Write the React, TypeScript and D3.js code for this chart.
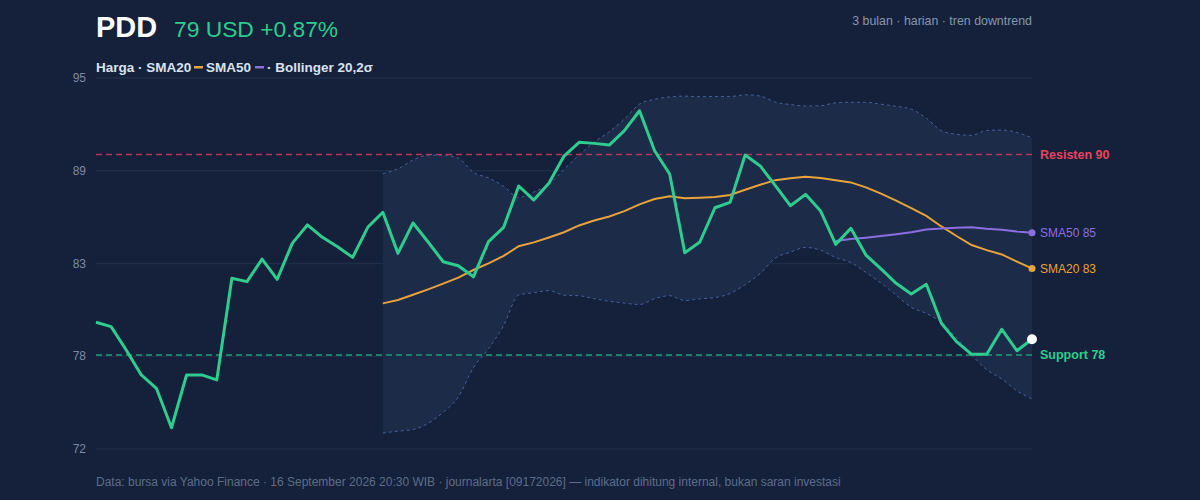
import { useEffect } from "react";
import * as d3 from "d3";

// harga penutupan harian PDD, 63 sesi
const price = [
  79.96, 79.7, 78.3, 76.81, 76.01, 73.65, 76.81, 76.81, 76.51, 82.59,
  82.39, 83.74, 82.53, 84.68, 85.78, 85.04, 84.48, 83.84, 85.64, 86.54,
  84.08, 85.9, 84.76, 83.58, 83.34, 82.68, 84.78, 85.64, 88.11, 87.27,
  88.27, 89.9, 90.72, 90.66, 90.56, 91.42, 92.61, 90.22, 88.83, 84.12,
  84.76, 86.81, 87.13, 89.96, 89.31, 88.13, 86.93, 87.61, 86.61, 84.62,
  85.58, 83.98, 83.15, 82.29, 81.65, 82.23, 79.9, 78.8, 78.04, 78.04,
  79.54, 78.26, 78.94,
];

const resistance = 90;
const support = 78;
const yDomain = [72.38, 94.57];
const tickCount = 5;

const W = 1200;
const H = 500;
const M = { left: 96, right: 168, top: 78, bottom: 51 };

const FONT = "'Liberation Sans', Arial, Helvetica, sans-serif";

const rolling = (n: number) =>
  price.map((_, i) => (i < n - 1 ? null : d3.mean(price.slice(i - n + 1, i + 1))!));

const bollinger = price.map((_, i) => {
  if (i < 19) return null;
  const win = price.slice(i - 19, i + 1);
  const m = d3.mean(win)!;
  const sd = Math.sqrt(d3.mean(win, (v) => (v - m) * (v - m))!);
  return { i, upper: m + 2 * sd, lower: m - 2 * sd };
});

export default function App() {
  useEffect(() => {
    document.body.style.margin = "0";
    document.body.style.background = "#15213a";
  }, []);

  const x = d3
    .scaleLinear()
    .domain([0, price.length - 1])
    .range([M.left, W - M.right]);
  const y = d3
    .scaleLinear()
    .domain(yDomain)
    .range([H - M.bottom, M.top]);

  const ticks = d3.range(tickCount).map((k) => yDomain[0] + (k * (yDomain[1] - yDomain[0])) / (tickCount - 1));

  const sma20 = rolling(20);
  const sma50 = rolling(50);

  const line = d3
    .line<number | null>()
    .defined((d) => d != null)
    .x((_, i) => x(i))
    .y((d) => y(d as number));

  const band = bollinger.filter((b) => b != null) as { i: number; upper: number; lower: number }[];
  const bandArea = d3
    .area<{ i: number; upper: number; lower: number }>()
    .x((d) => x(d.i))
    .y0((d) => y(d.lower))
    .y1((d) => y(d.upper))
    .curve(d3.curveMonotoneX);
  const bandEdge = (key: "upper" | "lower") =>
    d3
      .line<{ i: number; upper: number; lower: number }>()
      .x((d) => x(d.i))
      .y((d) => y(d[key]))
      .curve(d3.curveMonotoneX)(band);

  const last = price.length - 1;
  const lastPrice = price[last];
  const change = ((lastPrice - price[last - 1]) / price[last - 1]) * 100;
  const x0 = M.left;
  const x1 = W - M.right;

  return (
    <svg width={W} height={H} style={{ display: "block", background: "#15213a", fontFamily: FONT }}>
      {/* judul */}
      <text x={96} y={37} fill="#ffffff" fontSize={29} fontWeight="bold">
        PDD
      </text>
      <text x={174} y={37} fill="#2ecc8f" fontSize={22.8}>
        {`${Math.round(lastPrice)} USD +${change.toFixed(2)}%`}
      </text>
      <text x={x1} y={25} fill="#8696b0" fontSize={12.4} textAnchor="end">
        3 bulan · harian · tren downtrend
      </text>

      {/* legenda */}
      <g fontSize={13.5} fontWeight="bold" fill="#d9e2ef">
        <text x={96} y={72}>Harga · SMA20</text>
        <rect x={194} y={66} width={9} height={2.5} fill="#e8a33a" />
        <text x={206} y={72}>SMA50</text>
        <rect x={255} y={66} width={9} height={2.5} fill="#8b6fe0" />
        <text x={267} y={72}>· Bollinger 20,2σ</text>
      </g>

      {/* grid & sumbu y */}
      {ticks.map((t) => (
        <g key={t}>
          <line x1={x0} x2={x1} y1={y(t)} y2={y(t)} stroke="#1f2d49" strokeWidth={1.5} />
          <text x={86} y={y(t)} dy="0.35em" textAnchor="end" fill="#7b8aa5" fontSize={12}>
            {Math.round(t)}
          </text>
        </g>
      ))}

      {/* pita bollinger */}
      <path d={bandArea(band) ?? ""} fill="#1c2b48" />
      <path d={bandEdge("upper") ?? ""} fill="none" stroke="#45609a" strokeWidth={1} strokeDasharray="3,3" />
      <path d={bandEdge("lower") ?? ""} fill="none" stroke="#45609a" strokeWidth={1} strokeDasharray="3,3" />

      {/* resisten & support */}
      <line x1={x0} x2={x1} y1={y(resistance)} y2={y(resistance)} stroke="#b8365a" strokeWidth={1.5} strokeDasharray="6,4" />
      <line x1={x0} x2={x1} y1={y(support)} y2={y(support)} stroke="#1f9c7a" strokeWidth={1.5} strokeDasharray="6,4" />

      {/* SMA */}
      <path d={line(sma20) ?? ""} fill="none" stroke="#e8a33a" strokeWidth={2} />
      <path d={line(sma50) ?? ""} fill="none" stroke="#8b6fe0" strokeWidth={2} />

      {/* harga */}
      <path d={line(price) ?? ""} fill="none" stroke="#2ecc8f" strokeWidth={3} strokeLinejoin="round" />

      {/* titik akhir */}
      <circle cx={x(last)} cy={y(sma50[last]!)} r={3.5} fill="#8b6fe0" />
      <circle cx={x(last)} cy={y(sma20[last]!)} r={3.5} fill="#e8a33a" />
      <circle cx={x(last)} cy={y(lastPrice)} r={5} fill="#ffffff" />

      {/* label kanan */}
      <text x={1040} y={y(resistance)} dy="0.35em" fill="#e8435f" fontSize={12.5} fontWeight="bold">
        {`Resisten ${resistance}`}
      </text>
      <text x={1040} y={y(sma50[last]!)} dy="0.35em" fill="#8b6fe0" fontSize={12}>
        {`SMA50 ${Math.round(sma50[last]!)}`}
      </text>
      <text x={1040} y={y(sma20[last]!)} dy="0.35em" fill="#e8a33a" fontSize={12}>
        {`SMA20 ${Math.round(sma20[last]!)}`}
      </text>
      <text x={1040} y={y(support)} dy="0.35em" fill="#2ecc8f" fontSize={12.5} fontWeight="bold">
        {`Support ${support}`}
      </text>

      {/* sumber */}
      <text x={96} y={486} fill="#5d6d89" fontSize={12}>
        Data: bursa via Yahoo Finance · 16 September 2026 20:30 WIB · journalarta [09172026] — indikator dihitung internal, bukan saran investasi
      </text>
    </svg>
  );
}
